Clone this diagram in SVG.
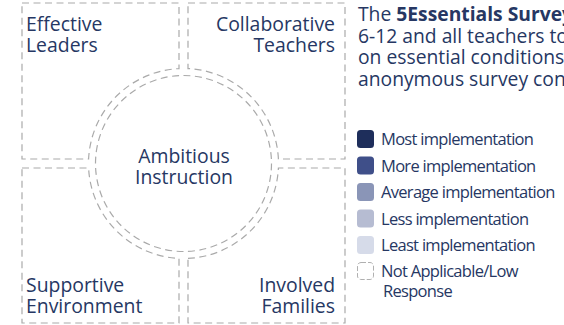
<svg xmlns="http://www.w3.org/2000/svg" width="564" height="325" viewBox="0 0 564 325">
<style>
.q{fill:#fff;stroke:#aaaaaa;stroke-width:1.2;stroke-dasharray:7 4.5}
.lbl{font-family:"Open Sans","Noto Sans",sans-serif;font-size:19.4px;fill:#263763}
.para{font-family:"Open Sans","Noto Sans",sans-serif;font-size:19.3px;fill:#263763}
.leg{font-family:"Open Sans","Noto Sans",sans-serif;font-size:16.5px;fill:#263763;letter-spacing:-0.7px}
.sw{stroke:none}
</style>
<rect width="564" height="325" fill="#fff"/>
<g id="effective-leaders">
<path class="q" d="M22,3 H179 V68.6 A95,95 0 0 0 88.6,159 H22 Z"/>
<text class="lbl" x="26" y="31">Effective</text>
<text class="lbl" x="26" y="52">Leaders</text>
</g>
<g id="collaborative-teachers">
<path class="q" d="M188,3 H345 V159 H278.4 A95,95 0 0 0 188,68.6 Z"/>
<text class="lbl" x="335" y="31" text-anchor="end">Collaborative</text>
<text class="lbl" x="335" y="52" text-anchor="end">Teachers</text>
</g>
<g id="supportive-environment">
<path class="q" d="M22,168 H88.6 A95,95 0 0 0 179,258.4 V323 H22 Z"/>
<text class="lbl" x="26" y="292">Supportive</text>
<text class="lbl" x="26" y="313">Environment</text>
</g>
<g id="involved-families">
<path class="q" d="M188,258.4 A95,95 0 0 0 278.4,168 H345 V323 H188 Z"/>
<text class="lbl" x="335" y="292" text-anchor="end">Involved</text>
<text class="lbl" x="335" y="313" text-anchor="end">Families</text>
</g>
<g id="ambitious-instruction">
<circle class="q" cx="183.5" cy="163.5" r="88"/>
<text class="lbl" x="184" y="163" text-anchor="middle">Ambitious</text>
<text class="lbl" x="184" y="184" text-anchor="middle">Instruction</text>
</g>
<g id="connectors"></g>
<g id="description">
<text class="para" x="358" y="21">The <tspan font-weight="bold">5Essentials Survey</tspan></text>
<text class="para" x="358" y="43">6-12 and all teachers to</text>
<text class="para" x="358" y="64">on essential conditions</text>
<text class="para" x="358" y="86">anonymous survey con</text>
</g>
<g id="legend">
<rect class="sw" x="357" y="130" width="17" height="18" rx="3.5" fill="#1e2e5b"/>
<text class="leg" x="381" y="145">Most implementation</text>
<rect class="sw" x="357" y="156.5" width="17" height="18" rx="3.5" fill="#3f4f89"/>
<text class="leg" x="381" y="171.5">More implementation</text>
<rect class="sw" x="357" y="183" width="17" height="18" rx="3.5" fill="#8a95b7"/>
<text class="leg" x="381" y="198">Average implementation</text>
<rect class="sw" x="357" y="209.5" width="17" height="18" rx="3.5" fill="#b6bcd2"/>
<text class="leg" x="381" y="224.5">Less implementation</text>
<rect class="sw" x="357" y="236" width="17" height="18" rx="3.5" fill="#d6dbe9"/>
<text class="leg" x="381" y="251">Least implementation</text>
<rect x="357.5" y="262.5" width="16" height="17" rx="3.5" fill="#fff" stroke="#b0b0b0" stroke-width="1" stroke-dasharray="5 2"/>
<text class="leg" x="381" y="276.5">Not Applicable/Low</text>
<text class="leg" x="383" y="296.5">Response</text>
</g>
</svg>
